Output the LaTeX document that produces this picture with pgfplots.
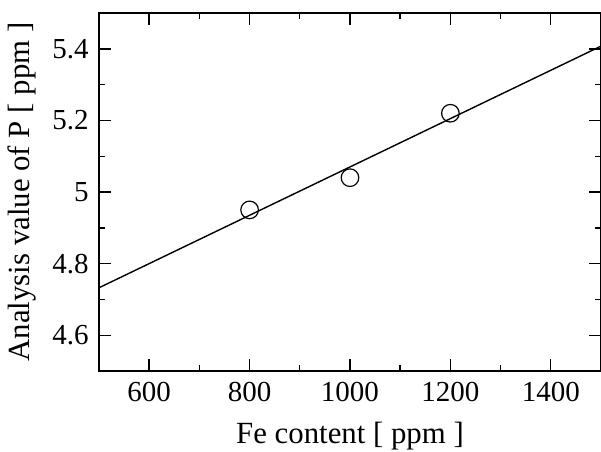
\documentclass[border=0pt]{standalone}
\usepackage{pgfplots}
\pgfplotsset{compat=1.18}
\usepackage{fontspec}
\setmainfont{Liberation Serif}
\newcommand{\tlfont}{\fontsize{14.5}{17}\selectfont}
\begin{document}
\fontsize{15}{18}\selectfont
\begin{tikzpicture}
\useasboundingbox (-49.5pt,-40pt) rectangle (251pt,185.5pt);
\begin{axis}[
  at={(0pt,0pt)}, anchor=south west,
  scale only axis, width=251pt, height=179pt,
  xmin=500, xmax=1500, ymin=4.5, ymax=5.5,
  xtick={600,800,1000,1200,1400},
  ytick={4.6,4.8,5,5.2,5.4},
  minor x tick num=1, minor y tick num=1,
  tick align=inside,
  major tick length=6pt, minor tick length=3pt,
  axis line style={line width=0.9pt},
  every tick/.style={black, line width=0.7pt},
  /pgf/number format/assume math mode=true,
  /pgf/number format/1000 sep={},
  xticklabel={\tlfont\pgfmathprintnumber[assume math mode=true]{\tick}},
  yticklabel={\tlfont\pgfmathprintnumber[assume math mode=true]{\tick}},
  label style={font=\fontsize{15.4}{18}\selectfont},
  xlabel={Fe content [ ppm ]},
  ylabel={Analysis value of P [ ppm ]},
  xticklabel style={yshift=-0.5pt},
  yticklabel style={xshift=0pt},
  xlabel style={yshift=0pt},
  ylabel style={yshift=-2pt},
]
\addplot[black, line width=0.7pt] coordinates {(500,4.7325) (1500,5.4075)};
\addplot[only marks, mark=o, mark size=4.4pt, mark options={fill=white, draw=black, line width=0.6pt}]
  coordinates {(800,4.95) (1000,5.04) (1200,5.22)};
\end{axis}
\end{tikzpicture}
\end{document}
